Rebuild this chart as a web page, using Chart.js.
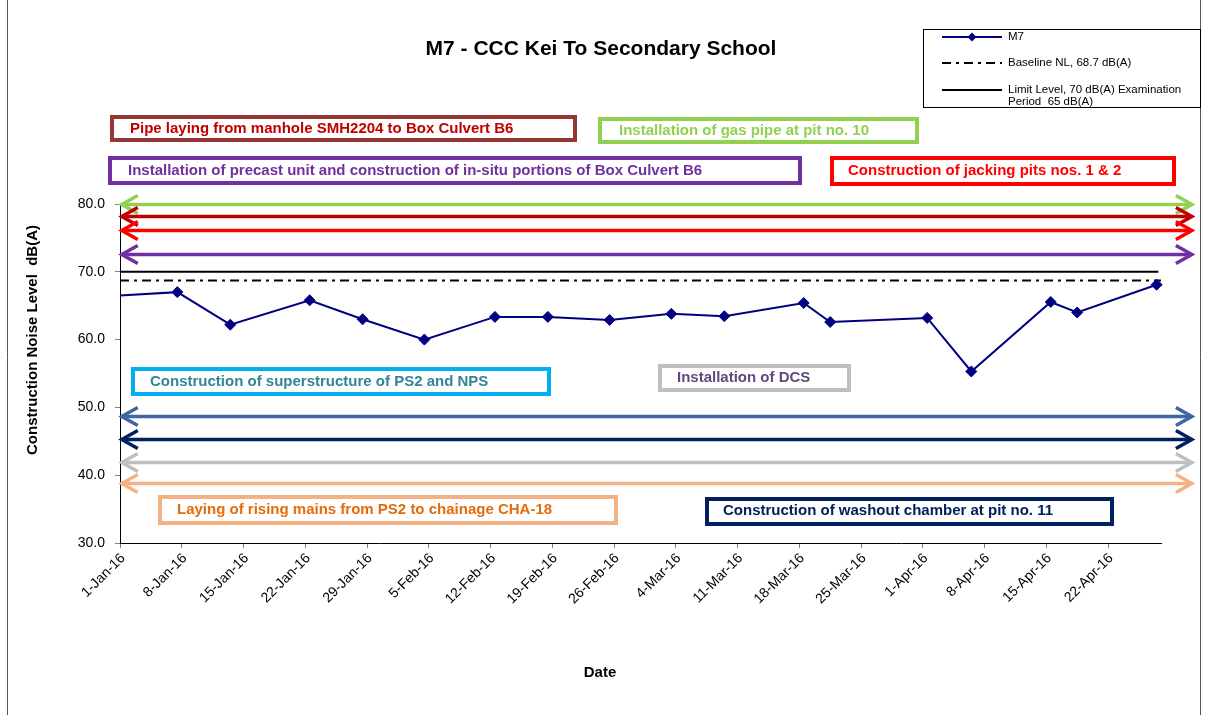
<!DOCTYPE html>
<html>
<head>
<meta charset="utf-8">
<script src="https://cdn.jsdelivr.net/npm/chart.js@4.4.1/dist/chart.umd.min.js"></script>
<style>
html,body{margin:0;padding:0;background:#fff;}
#wrap{width:1209px;height:715px;position:relative;}
</style>
</head>
<body>
<div id="wrap"><canvas id="c" width="1209" height="715"></canvas></div>
<script>
// ---------------- data ----------------
const chartTitle = 'M7 - CCC Kei To Secondary School';
const xAxisTitle = 'Date';
const yAxisTitle = 'Construction Noise Level  dB(A)';

const tickLabels = ['1-Jan-16','8-Jan-16','15-Jan-16','22-Jan-16','29-Jan-16','5-Feb-16','12-Feb-16',
  '19-Feb-16','26-Feb-16','4-Mar-16','11-Mar-16','18-Mar-16','25-Mar-16','1-Apr-16','8-Apr-16',
  '15-Apr-16','22-Apr-16'];
const yTickValues = [30, 40, 50, 60, 70, 80];

// measurement dates (first one lies before the axis start and is clipped)
const m7Dates = ['2015-12-24','2016-01-07','2016-01-13','2016-01-22','2016-01-28','2016-02-04',
  '2016-02-12','2016-02-18','2016-02-25','2016-03-03','2016-03-09','2016-03-18','2016-03-21',
  '2016-04-01','2016-04-06','2016-04-15','2016-04-18','2016-04-27'];
const m7Values = [65.9, 67.0, 62.2, 65.8, 63.0, 60.0, 63.35, 63.35, 62.9, 63.8, 63.45, 65.4, 62.6,
  63.2, 55.3, 65.55, 64.0, 68.1];

const baselineLevel = 68.7;
const limitLevel = 70;
const axisStartDate = '2016-01-01';
const axisEndDate = '2016-04-28';
const limitEndDate = '2016-04-27';

const seriesNames = ['M7', 'Baseline NL, 68.7 dB(A)', ['Limit Level, 70 dB(A) Examination', 'Period  65 dB(A)']];

const activityTexts = [
  'Pipe laying from manhole SMH2204 to Box Culvert B6',
  'Installation of gas pipe at pit no. 10',
  'Installation of precast unit and construction of in-situ portions of Box Culvert B6',
  'Construction of jacking pits nos. 1 & 2',
  'Construction of superstructure of PS2 and NPS',
  'Installation of DCS',
  'Laying of rising mains from PS2 to chainage CHA-18',
  'Construction of washout chamber at pit no. 11'
];
// arrow levels (dB) for activity period arrows
const arrowLevels = [80.0, 78.3, 76.2, 72.6, 48.7, 45.35, 42.0, 38.9];

// ---------------- styles / layout ----------------
const FONT = "'Liberation Sans', Arial, sans-serif";
Chart.defaults.font.family = FONT;
Chart.defaults.color = '#000';

const boxStyles = [
  {r:[112,117,463,23], tx:130, ty:129, text:'#C00000', border:'#953735'},
  {r:[600,119,317,23], tx:619, ty:131, text:'#92D050', border:'#92D050'},
  {r:[110,158,690,25], tx:128, ty:171, text:'#7030A0', border:'#7030A0'},
  {r:[832,158,342,26], tx:848, ty:171, text:'#FF0000', border:'#FF0000'},
  {r:[133,369,416,25], tx:150, ty:382, text:'#31849B', border:'#00B0F0'},
  {r:[660,366,189,24], tx:677, ty:378, text:'#604A7B', border:'#BFBFBF'},
  {r:[160,497,456,26], tx:177, ty:510, text:'#E46C0A', border:'#F4B183'},
  {r:[707,499,405,25], tx:723, ty:511, text:'#002060', border:'#002060'}
];
const arrowColors = ['#92D050','#C00000','#FF0000','#7030A0','#3F66A3','#002060','#BFBFBF','#F4B183'];
const arrowSpan = [0.2, 121.5]; // in axis day units

const dayOf = d => (Date.parse(d) - Date.parse(axisStartDate)) / 86400000;
const XMIN = 0, XMAX = dayOf(axisEndDate);
const DASHDOT = [9, 5, 3, 5];

const m7Points = m7Dates.map((d, i) => ({x: dayOf(d) + 0.5, y: m7Values[i]}));

const decor = {
  id: 'decor',
  afterDatasetsDraw(chart) {
    const ctx = chart.ctx;
    const xs = chart.scales.x, ys = chart.scales.y;
    ctx.save();
    // arrows
    arrowLevels.forEach((lv, i) => {
      const y = Math.round(ys.getPixelForValue(lv)) + 0.5;
      const xl = xs.getPixelForValue(arrowSpan[0]);
      const xr = xs.getPixelForValue(arrowSpan[1]);
      ctx.strokeStyle = arrowColors[i];
      ctx.lineWidth = 3.5;
      ctx.lineCap = 'butt';
      ctx.lineJoin = 'miter';
      ctx.beginPath();
      ctx.moveTo(xl + 2, y); ctx.lineTo(xr - 2, y);
      ctx.stroke();
      ctx.beginPath();
      ctx.moveTo(xl + 16, y - 9); ctx.lineTo(xl, y); ctx.lineTo(xl + 16, y + 9);
      ctx.moveTo(xr - 16, y - 9); ctx.lineTo(xr, y); ctx.lineTo(xr - 16, y + 9);
      ctx.stroke();
    });
    ctx.restore();
  },
  afterDraw(chart) {
    const ctx = chart.ctx;
    ctx.save();
    // outer frame
    ctx.strokeStyle = '#595959';
    ctx.lineWidth = 1;
    ctx.beginPath();
    ctx.moveTo(7.5, 0); ctx.lineTo(7.5, 715);
    ctx.moveTo(1200.5, 0); ctx.lineTo(1200.5, 715);
    ctx.stroke();

    // title
    ctx.fillStyle = '#000';
    ctx.textAlign = 'center';
    ctx.textBaseline = 'middle';
    ctx.font = 'bold 21px ' + FONT;
    ctx.fillText(chartTitle, 601, 49);

    // axis titles
    ctx.font = 'bold 15px ' + FONT;
    ctx.fillText(xAxisTitle, 600, 673);
    ctx.save();
    ctx.translate(33, 340);
    ctx.rotate(-Math.PI / 2);
    ctx.fillText(yAxisTitle, 0, 0);
    ctx.restore();

    // legend
    ctx.strokeStyle = '#000';
    ctx.lineWidth = 1;
    ctx.strokeRect(923.5, 29.5, 277, 78);
    ctx.font = '11.5px ' + FONT;
    ctx.textAlign = 'left';
    ctx.textBaseline = 'middle';
    // M7
    ctx.strokeStyle = '#000080'; ctx.lineWidth = 2;
    ctx.beginPath(); ctx.moveTo(942, 37); ctx.lineTo(1002, 37); ctx.stroke();
    ctx.fillStyle = '#000080';
    ctx.beginPath(); ctx.moveTo(972 - 4.5, 37); ctx.lineTo(972, 32.5); ctx.lineTo(976.5, 37); ctx.lineTo(972, 41.5); ctx.closePath(); ctx.fill();
    ctx.fillStyle = '#000';
    ctx.fillText(seriesNames[0], 1008, 37);
    // baseline
    ctx.strokeStyle = '#000'; ctx.setLineDash(DASHDOT);
    ctx.beginPath(); ctx.moveTo(942, 63); ctx.lineTo(1002, 63); ctx.stroke();
    ctx.setLineDash([]);
    ctx.fillText(seriesNames[1], 1008, 63);
    // limit
    ctx.beginPath(); ctx.moveTo(942, 90); ctx.lineTo(1002, 90); ctx.stroke();
    ctx.fillText(seriesNames[2][0], 1008, 90);
    ctx.fillText(seriesNames[2][1], 1008, 102);

    // activity boxes
    ctx.lineWidth = 4;
    ctx.font = 'bold 15px ' + FONT;
    boxStyles.forEach((b, i) => {
      ctx.strokeStyle = b.border;
      ctx.strokeRect(b.r[0], b.r[1], b.r[2], b.r[3]);
      ctx.fillStyle = b.text;
      ctx.fillText(activityTexts[i], b.tx, b.ty);
    });
    ctx.restore();
  }
};

new Chart(document.getElementById('c'), {
  type: 'line',
  data: {
    datasets: [
      {
        label: seriesNames[0],
        data: m7Points,
        borderColor: '#000080',
        backgroundColor: '#000080',
        borderWidth: 2,
        pointStyle: 'rectRot',
        pointRadius: 5.5,
        pointBorderWidth: 1,
        tension: 0,
        clip: {left: 0, top: 10, right: 10, bottom: 10},
        order: 1
      },
      {
        label: 'Baseline',
        data: [{x: XMIN, y: baselineLevel}, {x: XMAX, y: baselineLevel}],
        borderColor: '#000',
        borderWidth: 2,
        borderDash: DASHDOT,
        pointRadius: 0,
        order: 2
      },
      {
        label: 'Limit',
        data: [{x: XMIN, y: limitLevel}, {x: dayOf(limitEndDate) + 0.7, y: limitLevel}],
        borderColor: '#000',
        borderWidth: 2,
        pointRadius: 0,
        order: 3
      }
    ]
  },
  options: {
    responsive: false,
    devicePixelRatio: 1,
    animation: false,
    layout: {padding: {top: 204, right: 48, bottom: 0, left: 0}},
    plugins: {legend: {display: false}, tooltip: {enabled: false}, title: {display: false}},
    scales: {
      x: {
        type: 'linear',
        min: XMIN,
        max: XMAX,
        afterBuildTicks: s => { s.ticks = tickLabels.map((_, i) => ({value: i * 7})); },
        afterFit: s => { s.height = 172; },
        ticks: {
          autoSkip: false,
          maxRotation: 45,
          minRotation: 45,
          padding: 2,
          labelOffset: 3,
          font: {size: 14},
          color: '#000',
          callback: v => tickLabels[Math.round(v / 7)]
        },
        grid: {drawOnChartArea: false, tickLength: 5, color: '#808080', tickColor: '#808080'},
        border: {color: '#000', width: 1}
      },
      y: {
        min: 30,
        max: 80,
        afterBuildTicks: s => { s.ticks = yTickValues.map(v => ({value: v})); },
        afterFit: s => { s.width = 120; },
        ticks: {
          padding: 10,
          font: {size: 14},
          color: '#000',
          callback: v => Number(v).toFixed(1)
        },
        grid: {drawOnChartArea: false, tickLength: 5, color: '#808080', tickColor: '#808080'},
        border: {color: '#000', width: 1}
      }
    }
  },
  plugins: [decor]
});
</script>
</body>
</html>
